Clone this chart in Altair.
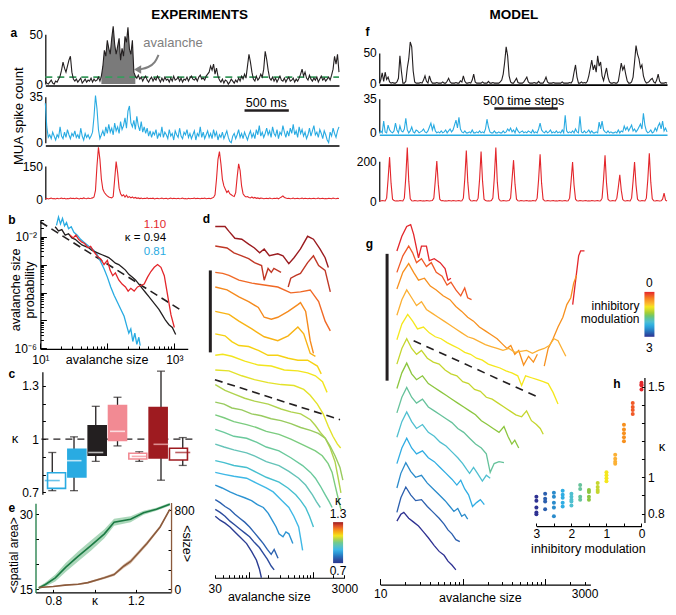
import altair as alt
import pandas as pd

# ======================= DATA =======================
# ---- panel a: experiments, MUA spike count (samples of ~17 ms) ----
A_BLACK = [3,1,0,2,4,1,0,3,2,5, 8,14,22,16,12,18,24,28,12,5, 3,5,2,4,6,1,3,5,2,4,
           3,6,2,5,3,4,7,3,8,18, 34,28,44,36,30,46,58,40,30,38, 46,24,36,28,48,42,57,35,30,44,
           12,8,6,9,5,7,3,6,8,4, 2,5,7,3,6,4,8,5,2,6, 3,7,4,5,2,6,3,8,4,5,
           7,3,6,2,5,4,7,3,6,8, 5,4,6,3,7,9,5,6,4,8, 10,12,18,14,20,10,16,8,4,2,
           5,1,4,3,0,2,5,3,1,4, 2,6,3,8,5,10,6,18,30,22, 12,5,3,8,4,6,10,7,15,33,
           25,14,6,4,7,3,6,2,5,8, 4,3,6,2,5,7,3,4,6,2, 5,3,6,10,15,8,12,6,4,9,
           5,3,6,4,7,2,5,8,4,6, 3,5,7,4,9,15,28,20,30,12]
A_BLUE = [30,12,4,6,3,8,5,2,6,4, 12,5,3,8,4,10,6,3,7,5, 9,4,6,3,11,5,2,7,4,6,
          3,5,8,20,36,26,10,3,6,9, 5,12,7,14,8,11,6,15,9,12, 7,16,10,13,19,11,24,28,15,12,
          17,10,20,13,9,16,8,12,7,11, 5,9,4,8,6,10,3,7,5,12, 4,8,6,3,10,5,7,2,9,6,
          4,11,5,3,8,6,10,4,7,3, 6,9,2,7,5,12,4,8,3,6, 9,4,7,3,10,5,8,2,6,4,
          8,3,6,9,4,1,0,5,7,3, 6,10,4,7,3,8,5,2,6,9, 4,7,3,10,6,13,5,8,4,7,
          11,6,9,4,12,7,5,10,3,8, 6,13,8,4,9,5,11,7,14,6, 9,4,12,7,10,5,8,3,6,11,
          5,9,13,6,8,4,10,7,3,9, 6,2,0,8,5,11,7,4,9,12]
A_RED = [2,4,1,3,5,2,3,1,4,2, 3,5,2,4,1,3,2,5,3,4, 2,5,3,1,4,2,6,3,2,5,
         3,4,6,10,40,150,235,180,90,45, 30,22,15,10,8,6,12,90,170,120, 50,25,15,20,10,18,8,12,6,10,
         5,8,4,6,3,5,2,4,3,6, 2,4,3,5,1,3,4,2,3,5, 2,3,4,1,3,5,2,4,3,2,
         4,2,3,5,2,3,1,4,2,3, 3,5,2,4,3,2,4,3,5,2, 3,4,2,5,8,20,90,180,215,160,
         90,60,45,30,38,25,20,15,12,30, 100,160,130,60,25,15,10,12,8,6, 10,5,8,4,6,3,5,4,2,3,
         4,2,5,3,2,4,3,5,2,6, 10,15,8,5,3,4,2,3,5,2, 3,4,2,3,5,2,4,3,2,4,
         2,3,4,2,3,5,2,3,4,2, 3,2,4,3,2,5,3,2,4,3]
A_THRESHOLD = 7
A_AVALANCHE = [38, 61]          # sample range of the marked avalanche
A_SCALEBAR = [135, 165]         # 500 ms
A_ARROW_I = [76.7, 74.5, 70.0, 64.0]
A_ARROW_V = [29.4, 21.6, 16.7, 14.7]

# ---- panel f: model traces (time steps) ----
F_BLACK = [0,5,17,3,18,6,10,2,0,1, 0,0,2,8,45,20,0,0,3,25, 40,68,60,20,2,0,0,0,1,0,
           5,12,3,0,12,4,0,0,0,1, 0,0,0,2,0,0,3,8,2,0, 0,0,1,0,0,4,2,12,3,0,
           0,1,0,5,15,2,0,0,0,0, 2,0,0,0,3,0,0,1,0,0, 0,0,2,5,15,35,60,45,12,2,
           0,0,4,8,1,0,0,0,2,6, 10,2,0,0,0,1,0,0,3,0, 0,0,4,10,2,0,0,0,1,0,
           0,0,0,0,2,0,0,0,0,1, 0,4,18,30,10,0,0,2,0,1, 0,3,12,25,38,22,30,18,45,28,
           35,12,4,15,25,10,2,0,0,1, 0,0,3,18,33,22,28,15,4,0, 0,2,10,35,62,48,40,25,30,12,
           4,0,1,3,6,8,2,0,5,15, 3,0,0,0,1,0]
F_BLUE = [0,2,0,12,1,0,8,3,1,0, 2,10,3,0,7,2,1,4,15,3, 0,2,6,1,0,3,2,0,1,2,
          4,1,0,2,6,10,3,8,2,0, 1,0,2,0,1,3,0,2,4,1, 3,8,13,5,16,4,1,0,2,0,
          0,1,0,3,0,0,1,0,2,0, 1,0,4,14,6,1,0,0,2,0, 0,1,0,0,2,0,1,4,2,5,
          1,3,0,5,2,0,1,2,0,1, 0,2,1,0,3,0,1,0,4,10, 3,1,0,2,0,1,3,0,1,0,
          2,0,1,0,3,0,18,2,0,1, 0,2,0,4,1,0,17,1,0,2, 0,1,3,0,2,0,0,1,0,11,
          4,12,3,1,0,2,0,1,0,0, 1,0,3,0,2,1,7,3,6,2, 5,8,2,4,1,3,6,9,4,20,
          8,2,0,1,3,0,1,5,2,7, 10,4,12,2,5,1]
F_RED = [2,1,3,2,1,15,110,220,90,10, 3,1,2,1,3,2,1,15,120,268, 100,12,2,1,3,2,1,2,3,1,
         2,1,3,2,1,2,3,15,105,200, 85,10,2,3,1,2,1,3,2,1, 3,2,1,2,3,1,2,15,115,253,
         95,12,2,1,3,2,1,15,110,248, 100,10,3,1,2,1,3,15,120,268, 95,12,2,1,3,2,1,2,3,15,
         110,205,85,10,2,1,3,2,1,2, 3,1,2,1,3,2,1,15,110,234, 90,10,2,1,3,2,1,2,3,1,
         2,1,3,2,1,2,3,1,2,15, 100,195,80,10,2,1,3,2,1,2, 3,1,2,1,3,2,1,2,3,1,
         2,15,110,229,90,10,2,1,3,2, 1,15,70,132,55,8,2,1,3,2, 1,15,100,195,80,10,2,1,3,2,
         1,15,110,239,95,12,2,1,3,2, 1,2,10,40,5,1]
F_SCALEBAR = [78, 121]          # 500 time steps

# ---- panel b: avalanche size distributions, [log10 size, log10 probability] ----
B_K094 = [[1.22,-1.65],[1.27,-1.8],[1.32,-1.75],[1.37,-1.95],[1.42,-1.9],[1.47,-2.05],[1.52,-2.1],
          [1.57,-2.2],[1.62,-2.3],[1.67,-2.35],[1.72,-2.4],[1.77,-2.5],[1.82,-2.55],[1.87,-2.6],
          [1.92,-2.65],[1.97,-2.7],[2.02,-2.75],[2.07,-2.85],[2.12,-2.95],[2.17,-3.0],[2.22,-3.1],
          [2.27,-3.2],[2.32,-3.35],[2.37,-3.45],[2.42,-3.55],[2.47,-3.7],[2.52,-3.85],[2.57,-4.0],
          [2.62,-4.15],[2.67,-4.3],[2.72,-4.45],[2.77,-4.6],[2.82,-4.8],[2.87,-5.0],[2.92,-5.15],
          [2.97,-5.25],[3.02,-5.5]]
B_K110 = [[1.44,-1.94],[1.49,-2.05],[1.53,-1.95],[1.57,-2.1],[1.62,-2.2],[1.66,-2.25],[1.71,-2.4],
          [1.75,-2.35],[1.8,-2.55],[1.85,-2.7],[1.9,-2.8],[1.95,-3.0],[2.0,-2.85],[2.04,-3.2],
          [2.08,-3.4],[2.12,-3.3],[2.17,-3.55],[2.22,-3.7],[2.27,-3.8],[2.31,-3.95],[2.35,-3.85],
          [2.4,-3.95],[2.45,-3.8],[2.5,-3.75],[2.55,-3.7],[2.6,-3.45],[2.65,-3.25],[2.7,-3.1],
          [2.75,-3.0],[2.8,-3.1],[2.85,-3.4],[2.9,-4.1],[2.95,-4.8],[3.0,-5.25]]
B_K081 = [[1.24,-1.6],[1.27,-1.3],[1.3,-1.55],[1.33,-1.35],[1.36,-1.62],[1.39,-1.5],[1.42,-1.72],
          [1.46,-1.65],[1.5,-1.85],[1.55,-1.95],[1.6,-2.1],[1.65,-2.2],[1.7,-2.3],[1.75,-2.4],
          [1.8,-2.5],[1.85,-2.65],[1.9,-2.9],[1.95,-3.15],[2.0,-3.45],[2.05,-3.8],[2.1,-4.1],
          [2.15,-4.35],[2.2,-4.6],[2.25,-4.85],[2.29,-5.2],[2.32,-5.45],[2.35,-5.3],[2.38,-5.75],
          [2.41,-5.45],[2.44,-5.85],[2.47,-5.6],[2.49,-5.9]]
B_POWERLAW = [[1.0,-1.48],[3.13,-4.68]]

# ---- panel c: kappa box plots ----
C_GROUP = ["g1","g2","g3","g4","g5","g6","g7"]
C_POS = [0,1,2,3,4,5,6]
C_Q1 = [0.723,0.787,0.910,0.993,0.888,0.894,0.883]
C_Q3 = [0.811,0.943,1.075,1.190,0.921,1.178,0.949]
C_MED = [0.767,0.879,0.925,1.044,0.903,0.971,0.925]
C_WLO = [0.710,0.710,0.875,0.962,0.875,0.769,0.852]
C_WHI = [0.925,1.013,1.185,1.236,0.929,1.383,1.009]

# ---- panel e: <spatial area> and <size> vs kappa ----
E_AREA_K = [0.73,0.762,0.81,0.86,0.92,0.984,1.048,1.095,1.175,1.238,1.30,1.365]
E_AREA = [15.3,16.0,17.3,19.4,21.6,23.8,26.1,28.4,29.0,30.3,31.0,32.0]
E_AREA_ERR = [0.3,0.4,0.7,0.9,1.0,1.0,0.9,0.7,0.6,0.4,0.3,0.3]
E_SIZE_K = [0.73,0.80,0.857,0.921,0.968,1.048,1.095,1.143,1.175,1.254,1.318,1.365]
E_SIZE = [20,30,43,52,69,118,151,237,283,464,632,810]
E_SIZE_ERR = [4,5,6,7,9,12,15,20,22,20,14,10]

# ---- panel d: stacked distributions, [log10 size, offset log-probability (down)] ----
D_C01 = [[1.485,2.5],[1.636,2.5],[1.697,3.0],[1.788,3.7],[1.894,3.8],[2.0,4.3],[2.09,4.7],[2.17,5.2],
         [2.24,4.8],[2.32,5.5],[2.45,5.3],[2.53,5.5],[2.62,6.3],[2.70,5.7],[2.80,4.8],[2.91,3.5],
         [3.0,3.8],[3.1,4.8],[3.18,5.7],[3.23,6.7]]
D_C02A = [[1.485,4.5],[1.667,4.7],[1.773,5.2],[1.894,5.5],[2.0,5.8],[2.09,6.2],[2.2,6.5],[2.24,8.0],
          [2.30,6.8],[2.35,7.2],[2.39,6.8],[2.50,7.2]]
D_C02B = [[2.61,8.7],[2.65,7.8],[2.73,7.5],[2.80,7.3],[2.91,6.2],[3.0,5.5],[3.08,6.5],[3.18,7.0],[3.26,9.2]]
D_C03 = [[1.485,7.2],[1.6,7.3],[1.697,7.5],[1.85,8.0],[2.05,8.3],[2.24,8.5],[2.45,8.7],[2.65,9.3],
         [2.80,9.2],[2.95,9.0],[3.08,10.2],[3.18,12.2],[3.26,13.2]]
D_C04 = [[1.485,8.7],[1.667,9.0],[1.85,9.7],[2.0,10.2],[2.15,10.8],[2.24,11.8],[2.35,12.0],[2.45,11.8],
         [2.61,11.2],[2.76,10.5],[2.80,10.3],[2.88,11.2],[2.95,14.2],[3.0,15.5]]
D_C05 = [[1.485,11.2],[1.697,11.5],[1.85,12.2],[2.05,13.0],[2.24,13.8],[2.45,14.2],[2.61,13.7],
         [2.76,12.8],[2.85,13.5],[2.95,15.5],[3.03,15.8]]
D_C06 = [[1.485,13.5],[1.636,13.7],[1.74,14.3],[1.85,14.7],[2.0,14.8],[2.15,15.2],[2.30,15.7],
         [2.45,15.7],[2.61,16.0],[2.76,16.2],[2.91,16.2],[3.06,16.8],[3.12,17.6]]
D_C07 = [[1.485,15.7],[1.6,15.6],[1.74,15.8],[1.94,16.3],[2.15,16.7],[2.35,16.8],[2.55,17.2],
         [2.76,17.3],[2.91,17.5],[3.03,17.8],[3.14,18.4],[3.21,19.5]]
D_C08 = [[1.485,17.2],[1.697,17.3],[1.894,17.8],[2.09,18.2],[2.30,18.5],[2.50,18.7],[2.70,18.8],
         [2.85,19.2],[2.95,19.8],[3.06,20.7],[3.15,21.7],[3.23,23.0],[3.30,24.0],[3.37,24.8],[3.42,25.2]]
D_C09 = [[1.485,18.7],[1.636,19.3],[1.788,19.7],[1.939,20.1],[2.091,20.4],[2.303,20.7],[2.5,21.2],
         [2.651,21.5],[2.803,21.7],[2.954,22.3],[3.03,22.9],[3.106,23.6],[3.182,24.2],[3.257,25.2],
         [3.333,26.6],[3.379,28.2],[3.424,29.8]]
D_C10 = [[1.485,20.5],[1.621,20.7],[1.742,21.1],[1.894,21.3],[2.045,21.7],[2.197,21.9],[2.348,22.2],
         [2.5,22.4],[2.651,22.7],[2.803,23.1],[2.954,23.4],[3.075,23.7],[3.182,24.2],[3.257,25.0],
         [3.333,26.0],[3.409,27.2],[3.454,28.5]]
D_C11 = [[1.485,21.8],[1.621,22.1],[1.772,22.5],[1.969,22.8],[2.121,23.1],[2.272,23.5],[2.469,23.8],
         [2.651,24.3],[2.879,25.0],[3.030,25.5],[3.136,26.0],[3.227,26.8],[3.288,27.7],[3.333,29.0],
         [3.379,30.3],[3.424,31.5]]
D_C12 = [[1.485,23.3],[1.621,23.6],[1.772,24.0],[1.969,24.2],[2.121,24.6],[2.272,25.1],[2.469,25.5],
         [2.651,26.2],[2.833,27.0],[2.954,27.7],[3.030,28.3],[3.106,29.1],[3.182,30.0],[3.242,30.7],[3.288,31.3]]
D_C13 = [[1.485,24.8],[1.621,25.1],[1.772,25.4],[1.969,25.7],[2.121,26.1],[2.272,26.6],[2.469,27.0],
         [2.621,27.6],[2.772,28.3],[2.879,29.0],[2.985,30.0],[3.045,30.7],[3.106,31.3]]
D_C14 = [[1.485,26.5],[1.621,26.7],[1.772,27.0],[1.969,27.2],[2.121,27.7],[2.272,28.2],[2.469,28.7],
         [2.606,29.3],[2.727,30.0],[2.803,30.6],[2.879,31.3],[2.939,32.2],[3.000,33.3]]
D_C15 = [[1.485,27.7],[1.621,27.9],[1.772,28.1],[1.969,28.3],[2.121,28.8],[2.272,29.3],[2.379,29.7],
         [2.5,30.5],[2.621,31.3],[2.697,32.2],[2.772,33.3],[2.803,34.5],[2.833,35.7]]
D_C16 = [[1.485,29.0],[1.591,29.3],[1.712,29.7],[1.818,30.0],[1.939,30.3],[2.045,30.6],[2.136,31.0],
         [2.227,31.3],[2.303,31.9],[2.363,32.6],[2.424,33.3],[2.469,34.0],[2.530,34.3],[2.575,33.8],
         [2.621,34.0],[2.682,35.0]]
D_C17 = [[1.485,30.5],[1.56,30.8],[1.636,31.2],[1.712,31.5],[1.788,32.0],[1.863,32.4],[1.939,32.8],
         [2.015,33.3],[2.091,33.9],[2.166,34.5],[2.227,35.0],[2.288,35.6],[2.348,36.1],[2.394,35.6],[2.454,36.5]]
D_C18 = [[1.485,31.5],[1.56,31.8],[1.636,32.2],[1.712,32.7],[1.788,33.1],[1.863,33.5],[1.939,33.9],
         [2.015,34.3],[2.091,34.9],[2.166,35.4],[2.227,36.0],[2.288,36.6],[2.348,37.3],[2.394,37.7]]
D_C19 = [[1.485,32.2],[1.56,32.6],[1.636,32.9],[1.712,33.3],[1.788,33.8],[1.863,34.3],[1.969,35.0],
         [2.045,35.8],[2.121,36.7],[2.166,37.6],[2.197,38.5]]
D_KAPPA = [1.30,1.27,1.27,1.22,1.19,1.15,1.12,1.10,1.09,1.05,1.03,1.01,0.99,0.96,0.93,0.90,0.84,0.78,0.74,0.71]
D_POWERLAW = [[1.48,18.2],[3.41,22.3]]
D_SCALEBAR = [[1.409,7.0],[1.409,15.4]]

# ---- panel g: model stacked distributions ----
G_C01A = [[1.202,5.0],[1.262,3.5],[1.321,2.5],[1.369,2.3],[1.405,3.3],[1.464,5.7],[1.5,4.5],[1.56,4.5],
          [1.595,6.0],[1.655,5.8],[1.726,6.2],[1.786,6.8],[1.821,8.0],[1.857,7.8]]
G_C01B = [[3.333,10.5],[3.369,8.0],[3.405,5.5],[3.429,5.0],[3.476,5.0]]
G_C02 = [[1.202,7.2],[1.274,5.5],[1.345,4.5],[1.393,5.2],[1.44,6.2],[1.5,5.8],[1.56,6.6],[1.619,6.2],
         [1.679,7.2],[1.75,7.6],[1.81,8.5],[1.857,8.2],[1.917,9.0],[1.976,9.6],[2.024,8.8],[2.06,9.8],[2.107,10.0]]
G_C03A = [[1.202,8.9],[1.274,7.2],[1.345,6.3],[1.405,7.2],[1.464,8.0],[1.536,7.8],[1.607,8.6],[1.679,9.0],
          [1.762,9.6],[1.845,10.0],[1.917,10.7],[1.988,11.2],[2.06,11.8],[2.131,12.2],[2.202,12.8],
          [2.274,13.2],[2.345,13.6],[2.417,14.0],[2.476,14.5],[2.536,15.0],[2.583,14.7],[2.631,15.6],
          [2.679,15.2],[2.738,16.7],[2.798,15.8],[2.857,16.4],[2.905,15.6]]
G_C03B = [[2.988,16.8],[3.036,15.0],[3.095,14.0],[3.155,12.8],[3.214,11.8],[3.262,10.5],[3.31,9.8],
          [3.345,8.3],[3.381,7.5]]
G_C04 = [[1.202,11.6],[1.262,10.0],[1.321,9.0],[1.381,9.8],[1.44,10.6],[1.5,10.2],[1.56,11.0],[1.631,11.4],
         [1.702,11.8],[1.774,12.2],[1.845,12.6],[1.917,13.0],[1.988,13.4],[2.06,13.8],[2.131,14.0],
         [2.202,14.3],[2.274,14.6],[2.345,14.8],[2.417,15.0],[2.488,15.2],[2.56,15.0],[2.631,15.4],
         [2.702,15.3],[2.774,15.2],[2.845,15.5],[2.917,15.2],[2.988,15.0],[3.048,14.7],[3.107,14.0],
         [3.155,14.2],[3.202,15.0],[3.25,15.8]]
G_C05 = [[1.202,14.1],[1.262,12.5],[1.333,11.5],[1.393,12.2],[1.452,13.0],[1.524,12.8],[1.595,13.4],
         [1.667,13.8],[1.738,14.0],[1.81,14.4],[1.881,14.7],[1.952,15.0],[2.024,15.4],[2.095,15.6],
         [2.167,16.0],[2.238,16.2],[2.31,16.6],[2.381,16.8],[2.452,17.0],[2.524,17.3],[2.595,17.5],
         [2.667,17.8],[2.714,18.8],[2.762,17.8],[2.833,18.0],[2.905,18.2],[2.976,18.4],[3.036,18.6],
         [3.095,19.5],[3.155,20.7]]
G_C06 = [[1.202,16.6],[1.262,15.0],[1.321,14.0],[1.381,15.0],[1.44,15.6],[1.5,15.2],[1.571,16.0],
         [1.643,16.4],[1.714,16.6],[1.786,17.2],[1.857,17.6],[1.929,17.8],[2.0,18.4],[2.071,18.6],
         [2.143,19.2],[2.214,19.4],[2.286,20.0],[2.357,20.2],[2.429,20.6],[2.5,21.0],[2.571,21.4],
         [2.643,21.8],[2.714,22.0],[2.774,21.4],[2.833,22.4],[2.893,22.8],[2.94,23.2],[2.976,23.8]]
G_C07 = [[1.202,19.1],[1.262,17.5],[1.321,16.5],[1.381,17.6],[1.44,18.2],[1.512,17.8],[1.583,18.6],
         [1.655,19.0],[1.726,19.4],[1.798,19.8],[1.869,20.2],[1.94,20.6],[2.012,21.0],[2.083,21.4],
         [2.155,21.8],[2.226,22.4],[2.298,22.8],[2.369,23.2],[2.44,23.6],[2.5,23.0],[2.548,24.0],
         [2.595,24.8],[2.631,24.4],[2.679,25.2]]
G_C08 = [[1.202,21.6],[1.262,20.0],[1.321,19.0],[1.381,20.0],[1.44,20.6],[1.512,20.2],[1.583,21.0],
         [1.655,21.4],[1.726,21.8],[1.798,22.2],[1.869,22.6],[1.94,23.2],[2.012,23.6],[2.083,24.2],
         [2.155,24.8],[2.226,25.2],[2.286,25.8],[2.333,27.7],[2.381,26.8],[2.44,26.6],[2.5,26.7]]
G_C09 = [[1.202,24.1],[1.262,22.5],[1.321,21.5],[1.381,22.5],[1.44,23.2],[1.512,22.8],[1.583,23.6],
         [1.655,24.0],[1.726,24.6],[1.798,25.0],[1.869,25.6],[1.94,26.2],[2.0,26.8],[2.048,27.4],
         [2.083,27.8],[2.131,27.2],[2.179,27.8],[2.238,28.6],[2.286,28.0],[2.333,28.3]]
G_C10 = [[1.202,26.8],[1.262,25.2],[1.321,24.2],[1.381,25.2],[1.44,25.8],[1.512,25.5],[1.583,26.2],
         [1.655,26.6],[1.726,27.2],[1.798,27.8],[1.869,28.4],[1.929,29.0],[1.976,28.5],[2.024,29.4],
         [2.071,30.0],[2.119,31.2],[2.167,30.8],[2.214,30.5],[2.262,31.0]]
G_C11 = [[1.202,29.3],[1.25,27.8],[1.31,26.7],[1.369,27.6],[1.429,28.2],[1.5,28.0],[1.571,28.8],
         [1.643,29.4],[1.714,30.0],[1.786,30.6],[1.845,31.2],[1.893,31.7],[1.94,31.4],[1.988,32.2],
         [2.024,32.0],[2.06,32.5]]
G_C12 = [[1.202,31.8],[1.25,30.3],[1.31,29.2],[1.369,30.0],[1.429,30.6],[1.5,30.5],[1.571,31.2],
         [1.643,31.8],[1.714,32.4],[1.774,33.0],[1.821,33.6],[1.869,34.0],[1.917,34.6],[1.964,34.8]]
G_C13 = [[1.202,32.7],[1.25,32.0],[1.286,31.8],[1.345,32.4],[1.405,32.8],[1.464,33.2],[1.524,33.8],
         [1.583,34.4],[1.655,35.2],[1.714,35.8],[1.774,36.2],[1.821,36.8],[1.869,37.2],[1.917,37.7]]
G_INH = [0, 0, 0.25, 0.5, 0.5, 0.75, 1.0, 1.25, 1.5, 1.75, 2.0, 2.25, 2.5, 2.75, 3.0]
G_POWERLAW = [[1.405,14.2],[2.917,20.0]]
G_SCALEBAR = [[1.083,5.3],[1.083,18.3]]

# ---- panel h: kappa vs inhibitory modulation ----
H_INH = [3,3,3,3,3, 2.75,2.75,2.75,2.75, 2.5,2.5,2.5,2.5,2.5, 2.25,2.25,2.25,2.25,2.25,
         2,2,2,2,2, 1.75,1.75,1.75,1.75, 1.5,1.5,1.5,1.5, 1.25,1.25,1.25,1.25, 1,1,1,1,
         0.75,0.75,0.75,0.75, 0.5,0.5,0.5,0.5,0.5, 0.25,0.25,0.25,0.25, 0,0,0,0]
H_KAPPA = [0.892,0.871,0.833,0.806,0.796, 0.909,0.882,0.866,0.823, 0.914,0.892,0.860,0.833,0.785,
           0.925,0.903,0.887,0.860,0.839, 0.909,0.892,0.876,0.866,0.844, 0.957,0.935,0.892,0.876,
           0.930,0.919,0.892,0.876, 0.968,0.946,0.930,0.919, 1.027,1.011,0.995,0.978,
           1.124,1.102,1.086,1.075, 1.290,1.263,1.242,1.220,1.199, 1.409,1.387,1.371,1.349,
           1.521,1.511,1.505,1.484]

# ======================= STYLE / LAYOUT =======================
FONT = "Liberation Sans"
BLACK = "#231f20"; BLUE = "#29abe2"; RED = "#e3262b"; GREEN_TH = "#3a9a5e"; GREY = "#808080"
PINK = "#f28a93"; DARKRED = "#9e1b20"; GREEN_E = "#1b7a43"; BROWN = "#8b5a3c"
D_RANGE = ["#2b3990", "#2e56a5", "#2b8fd0", "#3fb8e6", "#6cc3b4", "#9fcb5a", "#f2e51d", "#f7a21b", "#ec5a2a", "#9b1c20"]
G_RANGE = ["#2e3192", "#2b5fae", "#2a8bcb", "#30ade3", "#4fbfd0", "#66c29b", "#8cc63f", "#c5d62e",
           "#f5e71c", "#fbb034", "#f7901e", "#f05a28", "#e3262b"]
C_FILL = ["white", BLUE, BLACK, PINK, "white", DARKRED, "white"]
C_STROKE = [BLUE, BLUE, BLACK, PINK, PINK, DARKRED, DARKRED]
C_MEDCOL = [BLUE, "white", "white", "white", PINK, "#f7c0c0", DARKRED]

W, H = 660, 599
SX, SY = 660 / 672, 599 / 614


def cx(X):
    return round((X - 2) * SX, 2)


def cy(Y):
    return round((Y - 1) * SY, 2)


def sx(domain, X0, X1, typ="linear"):
    if typ == "log":
        return alt.Scale(type="log", domain=domain, range=[cx(X0), cx(X1)], nice=False)
    return alt.Scale(domain=domain, range=[cx(X0), cx(X1)], nice=False, zero=False)


def sy(domain, Y0, Y1, typ="linear"):
    if typ == "log":
        return alt.Scale(type="log", domain=domain, range=[cy(Y0), cy(Y1)], nice=False)
    return alt.Scale(domain=domain, range=[cy(Y0), cy(Y1)], nice=False, zero=False)


def ax(orient, pos, **kw):
    if orient == "left":
        off = -cx(pos)
    elif orient == "right":
        off = cx(pos) - W
    elif orient == "bottom":
        off = cy(pos) - H
    else:
        off = -cy(pos)
    d = dict(orient=orient, offset=round(off, 2), title=None, grid=False,
             labelFlush=False, labelOverlap=False)
    d.update(kw)
    return alt.Axis(**d)


def tick_ax(orient, pos, values, size=3, **kw):
    d = dict(values=values, labels=False, tickSize=size)
    d.update(kw)
    return ax(orient, pos, **d)


def lab_ax(orient, pos, values, **kw):
    d = dict(values=values, ticks=False, domain=False, tickSize=0)
    d.update(kw)
    return ax(orient, pos, **d)


LOG_MAJOR = "abs(log(datum.value)/LN10 - round(log(datum.value)/LN10)) < 0.01"
LOG_TICK = {"condition": {"test": LOG_MAJOR, "value": 6}, "value": 3}


def T(t, X, Y, size=12, color="black", weight="normal", align="center", angle=0):
    return alt.Chart(pd.DataFrame({"t": [t]})).mark_text(
        font=FONT, fontSize=size, color=color, fontWeight=weight, align=align,
        baseline="middle", angle=angle
    ).encode(x=alt.value(cx(X)), y=alt.value(cy(Y)), text="t:N")


L = []

# ======================= PANEL a =======================
XA = sx([0, len(A_BLACK) - 1], 40, 339)
YA1 = sy([0, 50], 79, 28)
YA2 = sy([0, 35], 139, 92)
YA3 = sy([0, 150], 197, 163)
dfa1 = pd.DataFrame({"i": range(len(A_BLACK)), "v": A_BLACK})
L.append(alt.Chart(dfa1.iloc[A_AVALANCHE[0]:A_AVALANCHE[1] + 1]).mark_area(color="#7a7a7a").encode(
    x=alt.X("i:Q", scale=XA, axis=None), y=alt.Y("v:Q", scale=YA1, axis=None)))
L.append(alt.Chart(pd.DataFrame({"i": [0, len(A_BLACK) - 1], "v": [A_THRESHOLD] * 2})).mark_line(
    color=GREEN_TH, strokeDash=[7, 5], strokeWidth=1.6).encode(
    x=alt.X("i:Q", scale=XA, axis=None), y=alt.Y("v:Q", scale=YA1, axis=None)))
L.append(alt.Chart(dfa1).mark_line(color=BLACK, strokeWidth=1.1).encode(
    x=alt.X("i:Q", scale=XA, axis=ax("bottom", 80.5, labels=False, ticks=False, domainWidth=1.6)),
    y=alt.Y("v:Q", scale=YA1, axis=ax("left", 40, values=[0, 50], ticks=False, tickSize=0, labelPadding=3))))
L.append(alt.Chart(pd.DataFrame({"i": A_ARROW_I, "v": A_ARROW_V})).mark_line(
    color=GREY, strokeWidth=2, interpolate="basis").encode(
    x=alt.X("i:Q", scale=XA, axis=None), y=alt.Y("v:Q", scale=YA1, axis=None)))
L.append(alt.Chart(pd.DataFrame({"i": [A_ARROW_I[-1] - 1.5], "v": [A_ARROW_V[-1]]})).mark_point(
    shape="triangle-left", filled=True, color=GREY, size=70, opacity=1).encode(
    x=alt.X("i:Q", scale=XA, axis=None), y=alt.Y("v:Q", scale=YA1, axis=None)))

dfa2 = pd.DataFrame({"i": range(len(A_BLUE)), "v": A_BLUE})
L.append(alt.Chart(dfa2).mark_line(color=BLUE, strokeWidth=1.1).encode(
    x=alt.X("i:Q", scale=XA, axis=ax("bottom", 142, labels=False, ticks=False, domainWidth=1.6)),
    y=alt.Y("v:Q", scale=YA2, axis=ax("left", 40, values=[0, 35], ticks=False, tickSize=0, labelPadding=3))))
L.append(alt.Chart(pd.DataFrame({"i": A_SCALEBAR, "v": [24.5, 24.5]})).mark_line(
    color=BLACK, strokeWidth=2.5).encode(
    x=alt.X("i:Q", scale=XA, axis=None), y=alt.Y("v:Q", scale=YA2, axis=None)))

dfa3 = pd.DataFrame({"i": range(len(A_RED)), "v": A_RED})
L.append(alt.Chart(dfa3).mark_line(color=RED, strokeWidth=1.1).encode(
    x=alt.X("i:Q", scale=XA, axis=None),
    y=alt.Y("v:Q", scale=YA3, axis=ax("left", 40, values=[0, 150], ticks=False, tickSize=0, labelPadding=3))))

# ======================= PANEL f =======================
XF = sx([0, len(F_BLACK) - 1], 380, 673)
YF1 = sy([0, 50], 78, 47)
YF2 = sy([0, 35], 129, 94)
YF3 = sy([0, 200], 199, 158)
L.append(alt.Chart(pd.DataFrame({"i": range(len(F_BLACK)), "v": F_BLACK})).mark_line(
    color=BLACK, strokeWidth=1.1).encode(
    x=alt.X("i:Q", scale=XF, axis=ax("bottom", 79.5, labels=False, ticks=False, domainWidth=1.6)),
    y=alt.Y("v:Q", scale=YF1, axis=ax("left", 380, values=[0, 50], ticks=False, tickSize=0, labelPadding=3))))
L.append(alt.Chart(pd.DataFrame({"i": range(len(F_BLUE)), "v": F_BLUE})).mark_line(
    color=BLUE, strokeWidth=1.1).encode(
    x=alt.X("i:Q", scale=XF, axis=ax("bottom", 131, labels=False, ticks=False, domainWidth=1.6, domainColor=BLUE)),
    y=alt.Y("v:Q", scale=YF2, axis=ax("left", 380, values=[0, 35], ticks=False, tickSize=0, labelPadding=3))))
L.append(alt.Chart(pd.DataFrame({"i": F_SCALEBAR, "v": [25, 25]})).mark_line(
    color=BLACK, strokeWidth=2.5).encode(
    x=alt.X("i:Q", scale=XF, axis=None), y=alt.Y("v:Q", scale=YF2, axis=None)))
L.append(alt.Chart(pd.DataFrame({"i": range(len(F_RED)), "v": F_RED})).mark_line(
    color=RED, strokeWidth=1.1).encode(
    x=alt.X("i:Q", scale=XF, axis=None),
    y=alt.Y("v:Q", scale=YF3, axis=ax("left", 380, values=[0, 200], ticks=False, tickSize=0, labelPadding=3))))

# ======================= PANEL b =======================
XB = sx([10, 1585], 35, 185, "log")
YB = sy([1e-6, 0.04], 350, 218, "log")
XB_TICKS = [10, 20, 30, 40, 50, 60, 70, 80, 90, 100, 200, 300, 400, 500, 600, 700, 800, 900, 1000]
YB_TICKS = [m * 10.0 ** e for e in range(-6, -1) for m in range(1, 10)] + [0.01, 0.02, 0.03]


def bdf(pairs):
    return pd.DataFrame({"s": [10 ** p[0] for p in pairs], "p": [10 ** p[1] for p in pairs]})


L.append(alt.Chart(bdf(B_POWERLAW)).mark_line(color=BLACK, strokeDash=[8, 5], strokeWidth=1.6).encode(
    x=alt.X("s:Q", scale=XB, axis=tick_ax("top", 350.5, XB_TICKS, size=LOG_TICK)),
    y=alt.Y("p:Q", scale=YB, axis=tick_ax("right", 35, YB_TICKS, size=LOG_TICK))))
L.append(alt.Chart(bdf(B_K081)).mark_line(color=BLUE, strokeWidth=1.3).encode(
    x=alt.X("s:Q", scale=XB, axis=lab_ax("bottom", 350.5, [10, 1000], labelPadding=6,
                                          labelExpr="datum.value < 100 ? '10\u00b9' : '10\u00b3'")),
    y=alt.Y("p:Q", scale=YB, axis=lab_ax("left", 35, [1e-6, 1e-2], labelPadding=4,
                                          labelExpr="datum.value < 0.0001 ? '10\u207b\u2076' : '10\u207b\u00b2'"))))
L.append(alt.Chart(bdf(B_K094)).mark_line(color=BLACK, strokeWidth=1.3).encode(
    x=alt.X("s:Q", scale=XB, axis=None), y=alt.Y("p:Q", scale=YB, axis=None)))
L.append(alt.Chart(bdf(B_K110)).mark_line(color=RED, strokeWidth=1.3).encode(
    x=alt.X("s:Q", scale=XB, axis=None), y=alt.Y("p:Q", scale=YB, axis=None)))

# ======================= PANEL c =======================
XC = sx([-0.5, 6.5], 36, 191)
YC = sy([0.69, 1.38], 499.4, 373.8)
dfc = pd.DataFrame({"g": C_GROUP, "i": C_POS, "q1": C_Q1, "q3": C_Q3, "med": C_MED,
                    "lo": C_WLO, "hi": C_WHI})
L.append(alt.Chart(pd.DataFrame({"i": [-0.5, 6.5], "v": [1, 1]})).mark_line(
    color=BLACK, strokeDash=[7, 5], strokeWidth=1.4).encode(
    x=alt.X("i:Q", scale=XC, axis=None),
    y=alt.Y("v:Q", scale=YC, axis=tick_ax("right", 37, [0.7, 0.8, 0.9, 1.0, 1.1, 1.2, 1.3], size=3))))
L.append(alt.Chart(dfc).mark_rule(color=BLACK, strokeWidth=1.3).encode(
    x=alt.X("i:Q", scale=XC, axis=None),
    y=alt.Y("lo:Q", scale=YC, axis=lab_ax("left", 37, [0.7, 1.0, 1.3], labelPadding=4,
                                           labelExpr="datum.value == 1 ? '1' : format(datum.value, '.1f')")),
    y2="hi:Q"))
L.append(alt.Chart(dfc).mark_tick(orient="horizontal", size=8, thickness=1.3, color=BLACK).encode(
    x=alt.X("i:Q", scale=XC, axis=None), y=alt.Y("hi:Q", scale=YC, axis=None)))
L.append(alt.Chart(dfc).mark_tick(orient="horizontal", size=8, thickness=1.3, color=BLACK).encode(
    x=alt.X("i:Q", scale=XC, axis=None), y=alt.Y("lo:Q", scale=YC, axis=None)))
L.append(alt.Chart(dfc).mark_bar(size=18, strokeWidth=1.6).encode(
    x=alt.X("i:Q", scale=XC, axis=None),
    y=alt.Y("q1:Q", scale=YC, axis=None), y2="q3:Q",
    fill=alt.Fill("g:N", scale=alt.Scale(domain=C_GROUP, range=C_FILL), legend=None),
    stroke=alt.Stroke("g:N", scale=alt.Scale(domain=C_GROUP, range=C_STROKE), legend=None)))
L.append(alt.Chart(dfc).mark_tick(orient="horizontal", size=15, thickness=1.6).encode(
    x=alt.X("i:Q", scale=XC, axis=None), y=alt.Y("med:Q", scale=YC, axis=None),
    color=alt.Color("g:N", scale=alt.Scale(domain=C_GROUP, range=C_MEDCOL), legend=None)))

# ======================= PANEL e =======================
XE = sx([0.714, 1.371], 30, 168)
YE_L = sy([14.4, 32.2], 600.1, 508.7)
YE_R = sy([-30, 880], 600, 507.9)
dfe_a = pd.DataFrame({"k": E_AREA_K, "v": E_AREA, "e": E_AREA_ERR})
dfe_s = pd.DataFrame({"k": E_SIZE_K, "v": E_SIZE, "e": E_SIZE_ERR})
L.append(alt.Chart(dfe_a).transform_calculate(lo="datum.v - datum.e", hi="datum.v + datum.e").mark_area(
    color="#8fcaa3", opacity=0.75).encode(
    x=alt.X("k:Q", scale=XE, axis=lab_ax("bottom", 600, [0.8, 1.0, 1.2], labelPadding=3,
                                          labelExpr="datum.value == 1 ? '\u03ba' : format(datum.value, '.1f')")),
    y=alt.Y("lo:Q", scale=YE_L, axis=lab_ax("left", 30, [15, 30], labelPadding=3)), y2="hi:Q"))
L.append(alt.Chart(dfe_s).transform_calculate(lo="datum.v - datum.e", hi="datum.v + datum.e").mark_area(
    color="#d2b295", opacity=0.75).encode(
    x=alt.X("k:Q", scale=XE, axis=None),
    y=alt.Y("lo:Q", scale=YE_R, axis=lab_ax("right", 168, [0, 800], labelPadding=3)), y2="hi:Q"))
L.append(alt.Chart(dfe_a).mark_line(color=GREEN_E, strokeWidth=1.6).encode(
    x=alt.X("k:Q", scale=XE, axis=tick_ax("top", 600, [0.8, 1.0, 1.2], size=3)),
    y=alt.Y("v:Q", scale=YE_L, axis=tick_ax("right", 30, [15, 20, 25, 30], size=3,
                                             domainColor=GREEN_E, domainWidth=1.3))))
L.append(alt.Chart(dfe_s).mark_line(color=BROWN, strokeWidth=1.6).encode(
    x=alt.X("k:Q", scale=XE, axis=None),
    y=alt.Y("v:Q", scale=YE_R, axis=tick_ax("left", 168, [0, 200, 400, 600, 800], size=3,
                                             domainColor=BROWN, domainWidth=1.3))))

# ======================= PANEL d =======================
XD = sx([30, 3000], 212.5, 344.5, "log")
YD = sy([0, 40], 200, 600)
D_CURVES = [D_C01, D_C02A, D_C02B, D_C03, D_C04, D_C05, D_C06, D_C07, D_C08, D_C09,
            D_C10, D_C11, D_C12, D_C13, D_C14, D_C15, D_C16, D_C17, D_C18, D_C19]
rows = []
for cid, (pts, kap) in enumerate(zip(D_CURVES, D_KAPPA)):
    for lx, dep in pts:
        rows.append({"s": 10 ** lx, "d": dep, "kappa": kap, "cid": cid})
dfd = pd.DataFrame(rows)
XD_TICKS = [30, 40, 50, 60, 70, 80, 90, 100, 200, 300, 400, 500, 600, 700, 800, 900, 1000, 2000, 3000]
L.append(alt.Chart(dfd).mark_line(strokeWidth=1.4).encode(
    x=alt.X("s:Q", scale=XD, axis=tick_ax("top", 585, XD_TICKS, size=LOG_TICK)),
    y=alt.Y("d:Q", scale=YD, axis=None),
    color=alt.Color("kappa:Q", scale=alt.Scale(domain=[0.7, 1.3], range=D_RANGE),
                    legend=alt.Legend(orient="none", legendX=cx(333), legendY=cy(528), direction="vertical",
                                      gradientLength=round(42 * SY, 1), gradientThickness=10,
                                      gradientStrokeWidth=0, title=None, labelOpacity=0, labelFontSize=1)),
    detail="cid:N"))
L.append(alt.Chart(pd.DataFrame({"s": [10 ** p[0] for p in D_POWERLAW], "d": [p[1] for p in D_POWERLAW]})).mark_line(
    color=BLACK, strokeDash=[8, 5], strokeWidth=1.6).encode(
    x=alt.X("s:Q", scale=XD, axis=lab_ax("bottom", 585, [30, 3000], labelPadding=6, format="d")),
    y=alt.Y("d:Q", scale=YD, axis=None)))
L.append(alt.Chart(pd.DataFrame({"s": [10 ** D_SCALEBAR[0][0]], "d1": [D_SCALEBAR[0][1]],
                                 "d2": [D_SCALEBAR[1][1]]})).mark_rule(color=BLACK, strokeWidth=3).encode(
    x=alt.X("s:Q", scale=XD, axis=None), y=alt.Y("d1:Q", scale=YD, axis=None), y2="d2:Q"))

# ======================= PANEL g =======================
XG = sx([10, 3530], 381, 595, "log")
YG = sy([0, 40], 200, 600)
G_CURVES = [G_C01A, G_C01B, G_C02, G_C03A, G_C03B, G_C04, G_C05, G_C06, G_C07, G_C08,
            G_C09, G_C10, G_C11, G_C12, G_C13]
rows = []
for cid, (pts, inh) in enumerate(zip(G_CURVES, G_INH)):
    for lx, dep in pts:
        rows.append({"s": 10 ** lx, "d": dep, "inh": inh, "cid": cid})
dfg = pd.DataFrame(rows)
XG_TICKS = [10, 20, 30, 40, 50, 60, 70, 80, 90, 100, 200, 300, 400, 500, 600, 700, 800, 900, 1000, 2000, 3000]
L.append(alt.Chart(dfg).mark_line(strokeWidth=1.3).encode(
    x=alt.X("s:Q", scale=XG, axis=tick_ax("top", 592, XG_TICKS, size=LOG_TICK)),
    y=alt.Y("d:Q", scale=YG, axis=None),
    color=alt.Color("inh:Q", scale=alt.Scale(domain=[3, 0], range=G_RANGE),
                    legend=alt.Legend(orient="none", legendX=cx(650), legendY=cy(292), direction="vertical",
                                      gradientLength=round(46 * SY, 1), gradientThickness=10,
                                      gradientStrokeWidth=0, title=None, labelOpacity=0, labelFontSize=1)),
    detail="cid:N"))
L.append(alt.Chart(pd.DataFrame({"s": [10 ** p[0] for p in G_POWERLAW], "d": [p[1] for p in G_POWERLAW]})).mark_line(
    color=BLACK, strokeDash=[8, 6], strokeWidth=1.6).encode(
    x=alt.X("s:Q", scale=XG, axis=lab_ax("bottom", 592, [10, 3000], labelPadding=4, format="d")),
    y=alt.Y("d:Q", scale=YG, axis=None)))
L.append(alt.Chart(pd.DataFrame({"s": [10 ** G_SCALEBAR[0][0]], "d1": [G_SCALEBAR[0][1]],
                                 "d2": [G_SCALEBAR[1][1]]})).mark_rule(color=BLACK, strokeWidth=3).encode(
    x=alt.X("s:Q", scale=XG, axis=None), y=alt.Y("d1:Q", scale=YG, axis=None), y2="d2:Q"))

# ======================= PANEL h =======================
XH = sx([3, 0], 540, 647)
YH = sy([0.75, 1.55], 528.5, 379.7)
dfh = pd.DataFrame({"inh": H_INH, "kappa": H_KAPPA})
L.append(alt.Chart(dfh).mark_circle(size=16, opacity=1).encode(
    x=alt.X("inh:Q", scale=XH, axis=tick_ax("top", 532, [3, 2.5, 2, 1.5, 1, 0.5, 0], size=3)),
    y=alt.Y("kappa:Q", scale=YH, axis=tick_ax("left", 650, [0.8, 0.9, 1.0, 1.1, 1.2, 1.3, 1.4, 1.5], size=3)),
    color=alt.Color("inh:Q", scale=alt.Scale(domain=[3, 0], range=G_RANGE), legend=None)))
L.append(alt.Chart(dfh).mark_circle(size=16, opacity=0).encode(
    x=alt.X("inh:Q", scale=XH, axis=lab_ax("bottom", 532, [3, 2, 1, 0], labelPadding=2)),
    y=alt.Y("kappa:Q", scale=YH, axis=lab_ax("right", 650, [0.8, 1.0, 1.5], labelPadding=3,
                                              labelExpr="datum.value == 1 ? '1' : format(datum.value, '.1f')"))))

# ======================= TEXT =======================
L += [
    T("EXPERIMENTS", 197, 8, 13.5, weight="bold"),
    T("MODEL", 517, 8, 13.5, weight="bold"),
    T("a", 8, 27, 12, weight="bold"),
    T("avalanche", 170, 37, 13, color=GREY),
    T("MUA spike count", 13, 112, 13, angle=270),
    T("500 ms", 265, 98, 12.5),
    T("f", 368, 26, 12, weight="bold"),
    T("500 time steps", 527, 96, 12.5),
    T("b", 6, 218, 12, weight="bold"),
    T("1.10", 163, 223, 11.5, color=RED, align="right"),
    T("\u03ba = 0.94", 163, 237, 11.5, align="right"),
    T("0.81", 163, 251, 11.5, color=BLUE, align="right"),
    T("avalanche size", 10, 290, 12.5, angle=270),
    T("probability", 24, 290, 12.5, angle=270),
    T("avalanche size", 103, 362, 12.5),
    T("c", 6, 376, 12, weight="bold"),
    T("\u03ba", 9, 443, 13),
    T("e", 6, 514, 12, weight="bold"),
    T("<spatial area>", 8, 562, 12, angle=270),
    T("<size>", 184, 550, 12.5, angle=90),
    T("d", 204, 217, 12, weight="bold"),
    T("avalanche size", 268, 605, 12.5),
    T("\u03ba", 338, 506, 12),
    T("1.3", 338, 520, 12),
    T("0.7", 338, 578, 12),
    T("g", 370, 243, 12, weight="bold"),
    T("avalanche size", 483, 606, 12.5),
    T("0", 655, 283, 12),
    T("3", 655, 349, 12),
    T("inhibitory", 645, 306, 12, align="right"),
    T("modulation", 645, 320, 12, align="right"),
    T("h", 622, 386, 12, weight="bold"),
    T("\u03ba", 668, 451, 13),
    T("inhibitory modulation", 593, 556, 12.5),
]

chart = alt.layer(*L).resolve_scale(
    x="independent", y="independent", color="independent", fill="independent", stroke="independent"
).properties(
    width=W, height=H, padding=0, autosize=alt.AutoSizeParams(type="none")
).configure(font=FONT).configure_view(stroke=None).configure_axis(
    grid=False, labelFont=FONT, labelFontSize=12, labelColor="black",
    domainColor="black", tickColor="black", domainWidth=1.2, tickWidth=1
)

chart.save("out.html", embed_options={"renderer": "svg", "actions": False})
